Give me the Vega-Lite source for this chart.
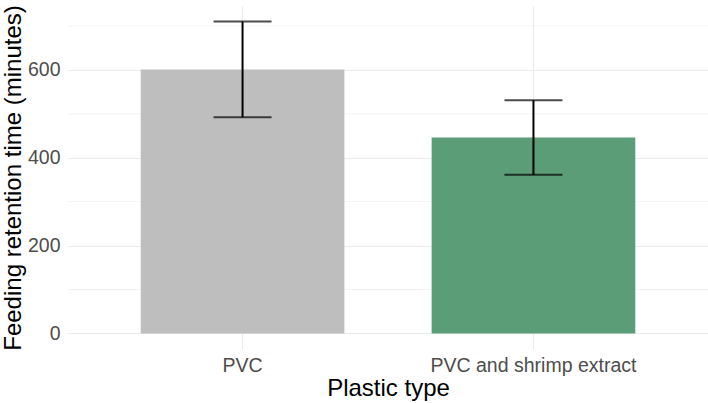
{
  "$schema": "https://vega.github.io/schema/vega-lite/v6.json",
  "width": 640,
  "height": 343,
  "autosize": {"type": "none"},
  "padding": {"left": 68, "top": 6, "right": 0, "bottom": 54},
  "background": "white",
  "config": {
    "view": {"stroke": null},
    "font": "Liberation Sans",
    "axis": {"domain": false, "ticks": false, "tickSize": 0, "gridColor": "#ebebeb", "gridWidth": 1.1, "labelLimit": 0}
  },
  "data": {
    "values": [
      {"plastic": "PVC", "mean": 601, "lower": 492, "upper": 710},
      {"plastic": "PVC and shrimp extract", "mean": 446, "lower": 361, "upper": 531}
    ]
  },
  "encoding": {
    "x": {
      "field": "plastic",
      "type": "nominal",
      "sort": null,
      "scale": {"paddingInner": 0.3, "paddingOuter": 0.25},
      "axis": {
        "title": "Plastic type",
        "labelAngle": 0,
        "labelFontSize": 19.5,
        "labelColor": "#4d4d4d",
        "labelPadding": 7,
        "labelLimit": 0,
        "grid": true,
        "bandPosition": 0.5,
        "titleFontSize": 24,
        "titleFontWeight": "normal",
        "titleColor": "black",
        "titleBaseline": "alphabetic",
        "titleY": 46
      }
    }
  },
  "layer": [
    {
      "mark": {"type": "rule", "color": "#ebebeb", "strokeWidth": 0.6},
      "data": {"values": [{"v": 100}, {"v": 300}, {"v": 500}, {"v": 700}]},
      "encoding": {
        "x": null,
        "y": {"field": "v", "type": "quantitative"}
      }
    },
    {
      "mark": {"type": "bar"},
      "encoding": {
        "y": {
          "field": "mean",
          "type": "quantitative",
          "scale": {"domain": [-35.5, 745.5], "nice": false, "zero": false},
          "axis": {
            "title": "Feeding retention time (minutes)",
            "values": [0, 200, 400, 600],
            "labelFontSize": 19.5,
            "labelColor": "#4d4d4d",
            "labelPadding": 8,
            "grid": true,
            "titleFontSize": 24,
            "titleFontWeight": "normal",
            "titleColor": "black",
            "titleBaseline": "alphabetic",
            "titleX": -48,
            "titleY": 171.5
          }
        },
        "y2": {"datum": 0},
        "color": {
          "field": "plastic",
          "type": "nominal",
          "scale": {"domain": ["PVC", "PVC and shrimp extract"], "range": ["#bebebe", "#5a9d76"]},
          "legend": null
        }
      }
    },
    {
      "mark": {"type": "rule", "color": "black", "strokeWidth": 2},
      "encoding": {
        "y": {"field": "lower", "type": "quantitative"},
        "y2": {"field": "upper"}
      }
    },
    {
      "mark": {"type": "tick", "color": "black", "thickness": 2, "size": 58, "orient": "horizontal"},
      "encoding": {"y": {"field": "lower", "type": "quantitative"}}
    },
    {
      "mark": {"type": "tick", "color": "black", "thickness": 2, "size": 58, "orient": "horizontal"},
      "encoding": {"y": {"field": "upper", "type": "quantitative"}}
    }
  ]
}
